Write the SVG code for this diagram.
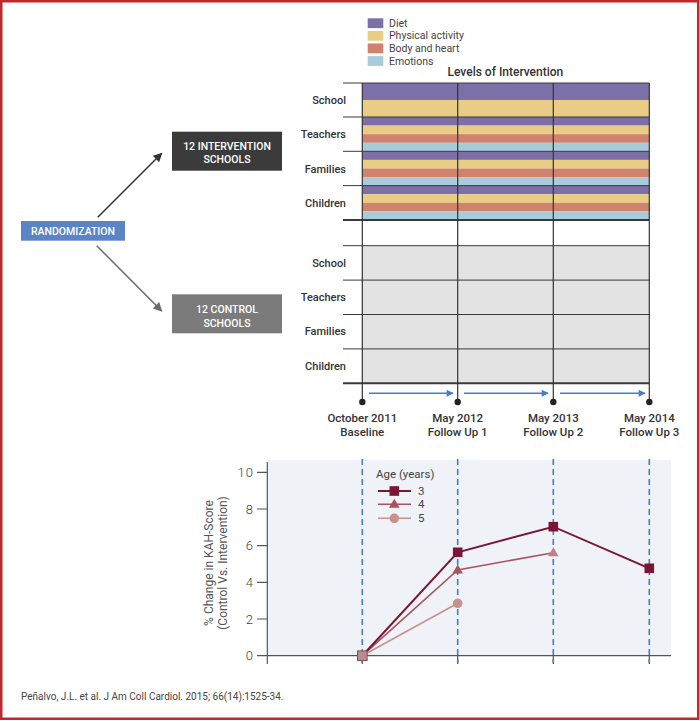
<svg xmlns="http://www.w3.org/2000/svg" width="700" height="721" viewBox="0 0 700 721">
<style>
  text { font-family: Roboto, "Liberation Sans", sans-serif; }
  .leg { font-size: 10.5px; fill: #444; }
  .title { font-size: 12px; font-weight: 500; fill: #333; text-anchor: middle; }
  .row { font-size: 11px; font-weight: 500; fill: #333; text-anchor: end; }
  .date { font-size: 11.5px; font-weight: 500; fill: #333; text-anchor: middle; }
  .box { font-size: 10.5px; font-weight: 500; fill: #fff; text-anchor: middle; }
  .grid { stroke: #3a3a3a; stroke-width: 1; fill: none; }
  .gridb { stroke: #3a3a3a; stroke-width: 2; fill: none; }
  .vl { stroke: #333; stroke-width: 1.2; fill: none; }
  .diet { fill: #7d70a8; }
  .pa { fill: #e9cd84; }
  .bh { fill: #d0826c; }
  .em { fill: #a8ccd9; }
  .tick { font-size: 13px; font-weight: 300; fill: #444; text-anchor: end; letter-spacing: 1px; }
  .axt { font-size: 12px; fill: #555; text-anchor: middle; }
  .dash { stroke: #4a7cc4; stroke-width: 1.6; stroke-dasharray: 6 4; fill: none; }
  .tl { stroke: #4a7cc4; stroke-width: 1.5; fill: none; marker-end: url(#blueArrow); }
</style>
<defs>
  <marker id="blueArrow" viewBox="0 0 10 10" refX="9" refY="5" markerWidth="9" markerHeight="7" markerUnits="userSpaceOnUse" orient="auto">
    <path d="M0,0 L10,5 L0,10 z" fill="#4a7cc4"/>
  </marker>
  <marker id="darkArrow" viewBox="0 0 10 10" refX="9" refY="5" markerWidth="11" markerHeight="9" markerUnits="userSpaceOnUse" orient="auto">
    <path d="M0,0 L10,5 L0,10 z" fill="#333"/>
  </marker>
  <marker id="greyArrow" viewBox="0 0 10 10" refX="9" refY="5" markerWidth="11" markerHeight="9" markerUnits="userSpaceOnUse" orient="auto">
    <path d="M0,0 L10,5 L0,10 z" fill="#6a6a6a"/>
  </marker>
</defs>

<rect x="0" y="0" width="700" height="721" fill="#fff"/>
<rect x="1.25" y="1.25" width="697" height="717.5" fill="none" stroke="#c1272d" stroke-width="2.5"/>

<!-- Legend -->
<g id="legend">
  <rect class="diet" x="367.7" y="18.3" width="15.6" height="9.8"/>
  <rect class="pa" x="367.7" y="30.9" width="15.6" height="9.8"/>
  <rect class="bh" x="367.7" y="43.5" width="15.6" height="9.8"/>
  <rect class="em" x="367.7" y="56.1" width="15.6" height="9.8"/>
  <text class="leg" x="389" y="26.7">Diet</text>
  <text class="leg" x="389" y="39.4">Physical activity</text>
  <text class="leg" x="389" y="52.1">Body and heart</text>
  <text class="leg" x="389" y="64.8">Emotions</text>
  <text class="title" x="505.4" y="76">Levels of Intervention</text>
</g>

<!-- Intervention grid -->
<g id="intervention-grid">
  <rect class="diet" x="362.3" y="83" width="287" height="17"/>
  <rect class="pa" x="362.3" y="100" width="287" height="17"/>
  <rect class="diet" x="362.3" y="117" width="287" height="8.6"/>
  <rect class="pa" x="362.3" y="125.6" width="287" height="8.6"/>
  <rect class="bh" x="362.3" y="134.2" width="287" height="8.6"/>
  <rect class="em" x="362.3" y="142.8" width="287" height="8.5"/>
  <rect class="diet" x="362.3" y="151.3" width="287" height="8.6"/>
  <rect class="pa" x="362.3" y="159.9" width="287" height="8.6"/>
  <rect class="bh" x="362.3" y="168.5" width="287" height="8.6"/>
  <rect class="em" x="362.3" y="177.1" width="287" height="8.5"/>
  <rect class="diet" x="362.3" y="185.6" width="287" height="8.6"/>
  <rect class="pa" x="362.3" y="194.2" width="287" height="8.6"/>
  <rect class="bh" x="362.3" y="202.8" width="287" height="8.6"/>
  <rect class="em" x="362.3" y="211.4" width="287" height="8.6"/>
  <path class="grid" d="M343,83 H649.3 M343,117 H649.3 M343,151.3 H649.3 M343,185.6 H649.3"/>
  <path class="gridb" d="M343,220 H649.3"/>
  <text class="row" x="346" y="104">School</text>
  <text class="row" x="346" y="138.2">Teachers</text>
  <text class="row" x="346" y="172.5">Families</text>
  <text class="row" x="346" y="206.8">Children</text>
</g>

<!-- Control grid -->
<g id="control-grid">
  <rect x="362.3" y="245.7" width="287" height="137.6" fill="#e3e3e3"/>
  <path class="grid" d="M343,245.7 H649.3 M343,280.1 H649.3 M343,314.5 H649.3 M343,348.9 H649.3"/>
  <path class="gridb" d="M343,383.3 H649.3"/>
  <text class="row" x="346" y="266.5">School</text>
  <text class="row" x="346" y="300.9">Teachers</text>
  <text class="row" x="346" y="335.3">Families</text>
  <text class="row" x="346" y="369.7">Children</text>
</g>

<!-- Timeline -->
<g id="timeline">
  <path class="vl" d="M362.3,83 V402 M457.7,83 V402 M553.3,83 V402 M649.3,83 V402"/>
  <circle cx="362.3" cy="402" r="3.2" fill="#222"/>
  <circle cx="457.7" cy="402" r="3.2" fill="#222"/>
  <circle cx="553.3" cy="402" r="3.2" fill="#222"/>
  <circle cx="649.3" cy="402" r="3.2" fill="#222"/>
  <path class="tl" d="M369,393.3 H453"/>
  <path class="tl" d="M464,393.3 H548"/>
  <path class="tl" d="M560,393.3 H645"/>
  <text class="date" x="362.3" y="422">October 2011</text>
  <text class="date" x="362.3" y="435.7">Baseline</text>
  <text class="date" x="457.7" y="422">May 2012</text>
  <text class="date" x="457.7" y="435.7">Follow Up 1</text>
  <text class="date" x="553.3" y="422">May 2013</text>
  <text class="date" x="553.3" y="435.7">Follow Up 2</text>
  <text class="date" x="649.3" y="422">May 2014</text>
  <text class="date" x="649.3" y="435.7">Follow Up 3</text>
</g>

<!-- Nodes -->
<g id="randomization">
  <rect x="21" y="221" width="104" height="19.7" fill="#5b84c6"/>
  <text class="box" x="73" y="235">RANDOMIZATION</text>
</g>
<g id="intervention-schools">
  <rect x="172" y="131.7" width="110" height="39" fill="#3b3b3b"/>
  <text class="box" x="227" y="150">12 INTERVENTION</text>
  <text class="box" x="227" y="162.7">SCHOOLS</text>
</g>
<g id="control-schools">
  <rect x="172" y="294.3" width="110" height="39" fill="#7b7b7b"/>
  <text class="box" x="227" y="312.7">12 CONTROL</text>
  <text class="box" x="227" y="326.7">SCHOOLS</text>
</g>

<g id="connectors">
  <path d="M97.7,217.3 L161.7,153.3" stroke="#333" stroke-width="1.5" fill="none" marker-end="url(#darkArrow)"/>
  <path d="M96.7,245.7 L161.7,311" stroke="#6a6a6a" stroke-width="1.5" fill="none" marker-end="url(#greyArrow)"/>
</g>

<!-- Chart -->
<g id="chart">
  <rect x="267.3" y="460" width="403.7" height="195.7" fill="#eff2f7"/>
  <path d="M267.3,462 V664" stroke="#555" stroke-width="1.2" fill="none"/>
  <path d="M257,655.7 H671" stroke="#555" stroke-width="1.2" fill="none"/>
  <path d="M257,472.3 H267.3 M257,509 H267.3 M257,545.7 H267.3 M257,582.3 H267.3 M257,619 H267.3 M362.3,655.7 V664 M457.7,655.7 V664 M553.3,655.7 V664 M649.3,655.7 V664" stroke="#555" stroke-width="1.2" fill="none"/>
  <text class="tick" x="254" y="477">10</text>
  <text class="tick" x="254" y="513.7">8</text>
  <text class="tick" x="254" y="550.4">6</text>
  <text class="tick" x="254" y="587">4</text>
  <text class="tick" x="254" y="623.7">2</text>
  <text class="tick" x="254" y="660.4">0</text>
  <text class="axt" transform="translate(213,563) rotate(-90)">% Change in KAH-Score</text>
  <text class="axt" transform="translate(227,563) rotate(-90)">(Control Vs. Intervention)</text>
  <path class="dash" d="M362.3,459 V663 M457.7,459 V663 M553.3,459 V663 M649.3,459 V663"/>

  <!-- series 5 -->
  <polyline points="362.3,655.7 457.7,603.3" fill="none" stroke="#c99090" stroke-width="1.6"/>
  <circle cx="457.7" cy="603.3" r="4.8" fill="#c99090"/>
  <!-- series 4 -->
  <polyline points="362.3,655.7 457.7,570 553.3,552.7" fill="none" stroke="#a5555f" stroke-width="1.6"/>
  <path d="M457.7,564.5 L463,573.5 L452.4,573.5 z" fill="#a5555f"/>
  <path d="M553.3,547.2 L558.6,556.2 L548,556.2 z" fill="#c47e85"/>
  <!-- series 3 -->
  <polyline points="362.3,655.7 457.7,552.3 553.3,526.7 649.3,568.3" fill="none" stroke="#7a1535" stroke-width="2"/>
  <rect x="452.9" y="547.5" width="9.6" height="9.6" fill="#7a1535"/>
  <rect x="548.5" y="521.9" width="9.6" height="9.6" fill="#7a1535"/>
  <rect x="644.5" y="563.5" width="9.6" height="9.6" fill="#7a1535"/>
  <rect x="357.5" y="650.9" width="9.6" height="9.6" fill="#b58e91" stroke="#8a4a58" stroke-width="1"/>

  <!-- chart legend -->
  <text x="376" y="478" font-size="11.5" fill="#444">Age (years)</text>
  <path d="M378,491 H411" stroke="#7a1535" stroke-width="2"/>
  <rect x="389.5" y="486.2" width="9.6" height="9.6" fill="#7a1535"/>
  <path d="M378,504.3 H411" stroke="#a5555f" stroke-width="1.6"/>
  <path d="M394.3,498.8 L399.6,507.8 L389,507.8 z" fill="#a5555f"/>
  <path d="M378,518.3 H411" stroke="#c99090" stroke-width="1.6"/>
  <circle cx="394.3" cy="518.3" r="4.8" fill="#c99090"/>
  <text x="418" y="495" font-size="11.5" fill="#444">3</text>
  <text x="418" y="508.3" font-size="11.5" fill="#444">4</text>
  <text x="418" y="522.3" font-size="11.5" fill="#444">5</text>
</g>

<text x="21" y="700" font-size="10" fill="#444">Peñalvo, J.L. et al. J Am Coll Cardiol. 2015; 66(14):1525-34.</text>
</svg>
